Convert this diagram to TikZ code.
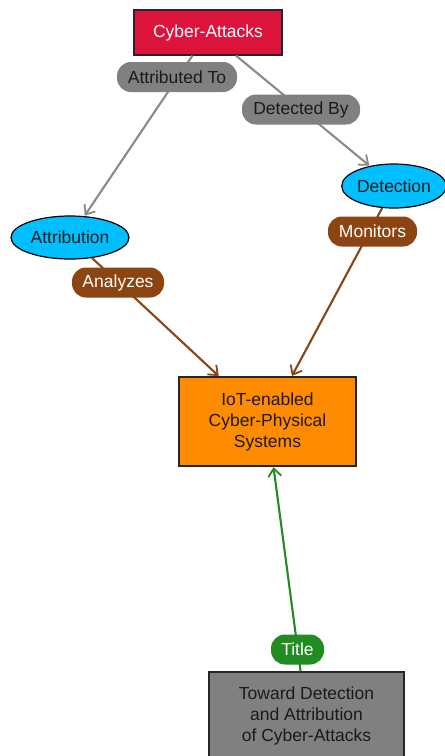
\documentclass[tikz,border=0pt]{standalone}
\usepackage{fontspec}
\setmainfont{Liberation Sans}
\usetikzlibrary{arrows.meta,shapes.geometric}
\definecolor{crim}{HTML}{DC143C}
\definecolor{sky}{HTML}{00BFFF}
\definecolor{orng}{HTML}{FF8C00}
\definecolor{gry}{HTML}{808080}
\definecolor{edgegry}{HTML}{8A8A8A}
\definecolor{brwn}{HTML}{8B4513}
\definecolor{grn}{HTML}{228B22}
\definecolor{txt}{HTML}{1A1A1A}
\tikzset{
  base/.style={font=\fontsize{17.5}{21}\selectfont, align=center, inner sep=0pt},
  boxnode/.style={base, draw=black!85, line width=1.2pt, rectangle},
  ellnode/.style={base, draw=black, line width=1.2pt, ellipse, fill=sky, text=txt},
  pill/.style={base, rectangle, rounded corners=14pt, minimum height=30pt},
  conn/.style={line width=2.1pt, -{Straight Barb[length=8pt,width=13pt,line width=1.8pt]}, shorten >=0.5pt}
}
\begin{document}
\begin{tikzpicture}[x=1pt,y=-1pt]
\useasboundingbox (0,0) rectangle (445,756);
\fill[white] (0,0) rectangle (445,756);
% nodes
\node[boxnode, fill=crim, text=white, minimum width=148pt, minimum height=45pt] (ca) at (208,32.5) {Cyber-Attacks};
\node[ellnode, minimum width=118pt, minimum height=43pt] (attr) at (70,237.5) {Attribution};
\node[ellnode, minimum width=104pt, minimum height=44pt] (det) at (394,186) {Detection};
\node[boxnode, fill=orng, text=txt, minimum width=177pt, minimum height=89pt] (iot) at (267.5,421.5) {IoT-enabled\\Cyber-Physical\\Systems};
\node[boxnode, fill=gry, text=txt, minimum width=195pt, minimum height=88pt] (ttl) at (306.5,716) {Toward Detection\\and Attribution\\of Cyber-Attacks};
% connectors
\draw[conn, edgegry] (ca) -- (attr);
\draw[conn, edgegry] (ca) -- (det);
\draw[conn, brwn] (attr) -- (iot);
\draw[conn, brwn] (det) -- (iot);
\draw[conn, grn] (ttl) -- (iot);
% labels
\node[pill, fill=gry, text=txt, minimum width=120pt] (l1) at (177,77) {Attributed To};
\node[pill, fill=gry, text=txt, minimum width=118pt] (l2) at (301,109.5) {Detected By};
\node[pill, fill=brwn, text=white, minimum width=89pt] (l3) at (372.5,231.5) {Monitors};
\node[pill, fill=brwn, text=white, minimum width=92pt] (l4) at (118,282.5) {Analyzes};
\node[pill, fill=grn, text=white, minimum width=53pt] (l5) at (297.5,649.5) {Title};
\end{tikzpicture}
\end{document}
